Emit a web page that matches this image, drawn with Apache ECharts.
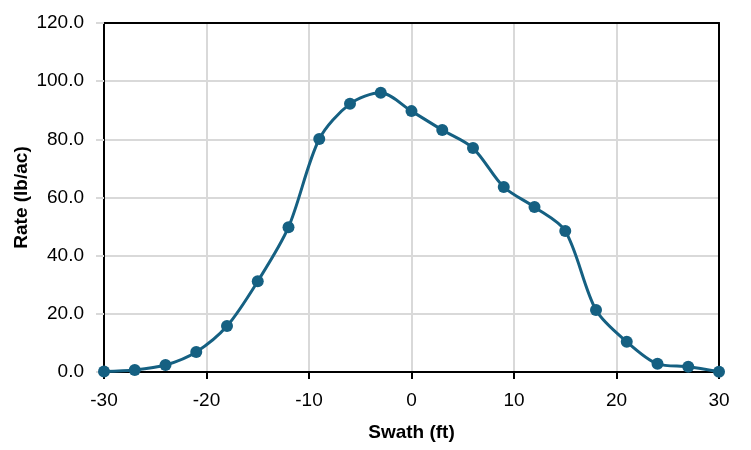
<!DOCTYPE html>
<html><head><meta charset="utf-8">
<script src="https://cdn.jsdelivr.net/npm/echarts@6/dist/echarts.min.js"></script>
<style>html,body{margin:0;padding:0;background:#fff}#c{width:751px;height:450px}</style>
</head><body><div id="c"></div>
<script>
const swath = [-30,-27,-24,-21,-18,-15,-12,-9,-6,-3,0,3,6,9,12,15,18,21,24,27,30];
const rate = [0.2,0.7,2.4,6.9,15.8,31.2,49.8,80.1,92.2,96.0,89.7,83.2,77.0,63.6,56.7,48.5,21.3,10.4,2.8,1.8,0.1];
const xTitle = 'Swath (ft)';
const yTitle = 'Rate (lb/ac)';
const color = '#156082';
const font = 'Liberation Sans';

const chart = echarts.init(document.getElementById('c'), null, {renderer:'canvas'});
chart.setOption({
  animation:false,
  grid:{left:104,right:32,top:23,bottom:78,containLabel:false,outerBoundsMode:'none'},
  xAxis:[{
    type:'value',min:-30,max:30,interval:10,
    name:xTitle,nameLocation:'middle',nameGap:51,nameMoveOverlap:false,
    nameTextStyle:{fontFamily:font,fontSize:19,fontWeight:'bold',color:'#000'},
    axisLine:{show:true,onZero:false,lineStyle:{color:'#000',width:2}},
    axisTick:{show:true,length:7,lineStyle:{color:'#000',width:2}},
    axisLabel:{fontFamily:font,fontSize:19,color:'#000',margin:19},
    splitLine:{show:true,lineStyle:{color:'#d9d9d9',width:2}}
  },{
    type:'value',position:'top',min:-30,max:30,interval:10,
    axisLine:{show:true,onZero:false,lineStyle:{color:'#000',width:2}},
    axisTick:{show:false},axisLabel:{show:false},splitLine:{show:false}
  }],
  yAxis:[{
    type:'value',min:0,max:120,interval:20,
    name:yTitle,nameLocation:'middle',nameGap:73,nameMoveOverlap:false,
    nameTextStyle:{fontFamily:font,fontSize:19,fontWeight:'bold',color:'#000'},
    axisLine:{show:true,onZero:false,lineStyle:{color:'#000',width:2}},
    axisTick:{show:true,length:8,lineStyle:{color:'#d9d9d9',width:2}},
    axisLabel:{fontFamily:font,fontSize:19,color:'#000',margin:20,formatter:v=>v.toFixed(1)},
    splitLine:{show:true,lineStyle:{color:'#d9d9d9',width:2}}
  },{
    type:'value',position:'right',min:0,max:120,interval:20,
    axisLine:{show:true,onZero:false,lineStyle:{color:'#000',width:2}},
    axisTick:{show:false},axisLabel:{show:false},splitLine:{show:false}
  }],
  series:[{
    type:'line',
    data:swath.map((x,i)=>[x,rate[i]]),
    smooth:0.3,
    symbol:'circle',symbolSize:12,
    lineStyle:{color:color,width:3},
    itemStyle:{color:color},
    clip:false
  }]
});
</script></body></html>
